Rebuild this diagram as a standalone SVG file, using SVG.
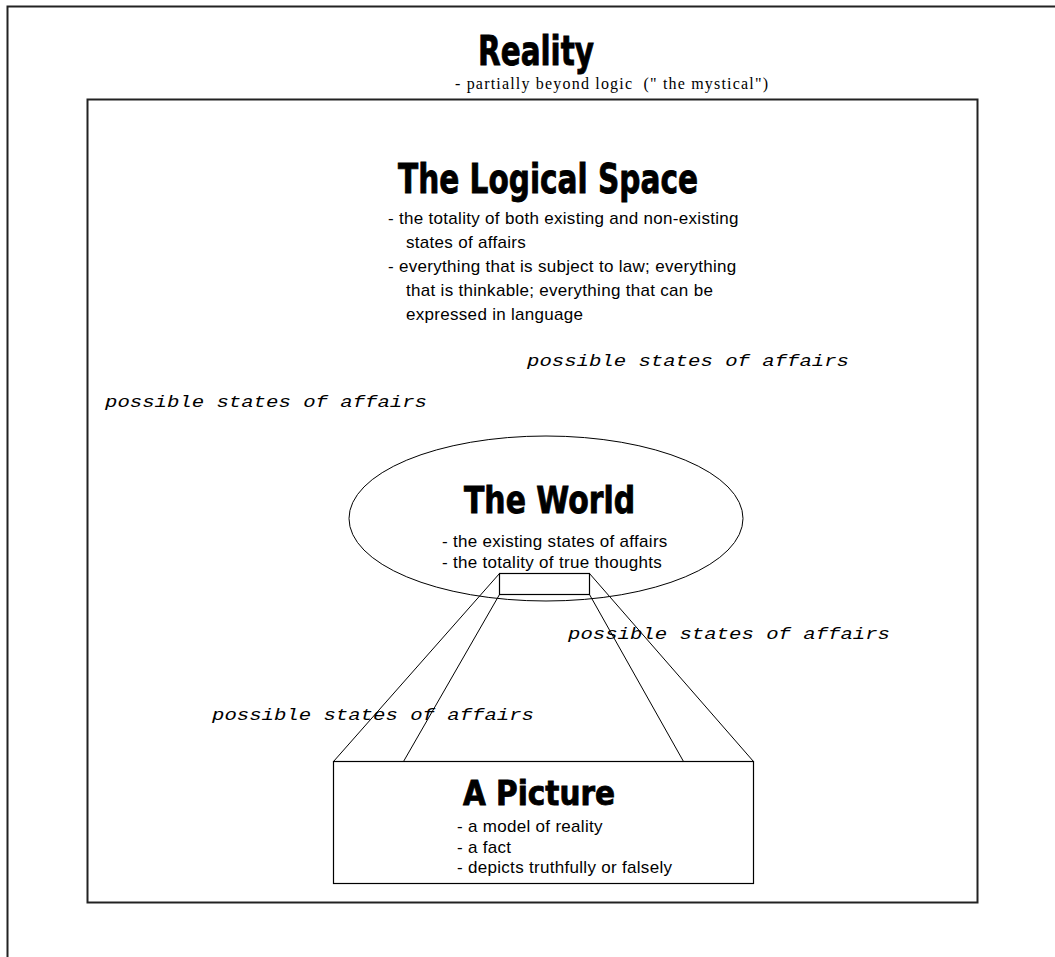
<svg xmlns="http://www.w3.org/2000/svg" width="1055" height="957" viewBox="0 0 1055 957">
<style>
.frame{fill:none;stroke:#222;stroke-width:2}
.thin{fill:none;stroke:#000;stroke-width:1}
.box{fill:#fff;stroke:#000;stroke-width:1.2}
.title{font-family:"DejaVu Sans","Liberation Sans",sans-serif;font-weight:bold;fill:#000;stroke:#000;stroke-width:0.9}
.body{font-family:"Liberation Sans",Arial,sans-serif;font-size:17px;letter-spacing:0.3px;fill:#000}
.serif{font-family:"Liberation Serif","Times New Roman",serif;font-size:16px;fill:#000;white-space:pre}
.mono{font-family:"Liberation Mono","Courier New",monospace;font-style:italic;font-size:16px;fill:#000}
</style>
<rect width="1055" height="957" fill="#fff"/>
<g id="reality">
<polyline class="frame" points="7.5,957 7.5,6.5 1055,6.5"/>
<text class="title" x="478" y="65" font-size="40" textLength="116" lengthAdjust="spacingAndGlyphs">Reality</text>
<text class="serif" x="455" y="89" textLength="313" lengthAdjust="spacing">- partially beyond logic  (" the mystical")</text>
</g>
<g id="logical-space">
<rect class="frame" x="87.5" y="99.5" width="890" height="803"/>
<text class="title" x="398" y="193" font-size="41" textLength="300" lengthAdjust="spacingAndGlyphs">The Logical Space</text>
<text class="body" x="388" y="224">- the totality of both existing and non-existing</text>
<text class="body" x="406" y="248">states of affairs</text>
<text class="body" x="388" y="272">- everything that is subject to law; everything</text>
<text class="body" x="406" y="296">that is thinkable; everything that can be</text>
<text class="body" x="406" y="320">expressed in language</text>
</g>
<g id="world">
<ellipse class="thin" cx="546" cy="518.5" rx="197" ry="82.5" fill="#fff"/>
<text class="title" x="464" y="513" font-size="38" textLength="171" lengthAdjust="spacingAndGlyphs">The World</text>
<text class="body" x="442" y="547">- the existing states of affairs</text>
<text class="body" x="442" y="568">- the totality of true thoughts</text>
</g>
<g id="world-fragment">
<rect class="box" x="499.5" y="573.5" width="90" height="21"/>
</g>
<g id="labels">
<text class="mono" x="527" y="366" textLength="322" lengthAdjust="spacingAndGlyphs">possible states of affairs</text>
<text class="mono" x="105" y="407" textLength="322" lengthAdjust="spacingAndGlyphs">possible states of affairs</text>
<text class="mono" x="568" y="639" textLength="322" lengthAdjust="spacingAndGlyphs">possible states of affairs</text>
<text class="mono" x="212" y="720" textLength="322" lengthAdjust="spacingAndGlyphs">possible states of affairs</text>
</g>
<g id="connectors">
<line class="thin" x1="499.5" y1="573.5" x2="333.5" y2="761.5"/>
<line class="thin" x1="499.5" y1="594.5" x2="403.5" y2="761.5"/>
<line class="thin" x1="589.5" y1="594.5" x2="683.5" y2="761.5"/>
<line class="thin" x1="589.5" y1="573.5" x2="753.5" y2="761.5"/>
</g>
<g id="picture">
<rect class="box" x="333.5" y="761.5" width="420" height="122"/>
<text class="title" x="463" y="805" font-size="34" textLength="152" lengthAdjust="spacingAndGlyphs">A Picture</text>
<text class="body" x="457" y="832">- a model of reality</text>
<text class="body" x="457" y="853">- a fact</text>
<text class="body" x="457" y="873">- depicts truthfully or falsely</text>
</g>
</svg>
